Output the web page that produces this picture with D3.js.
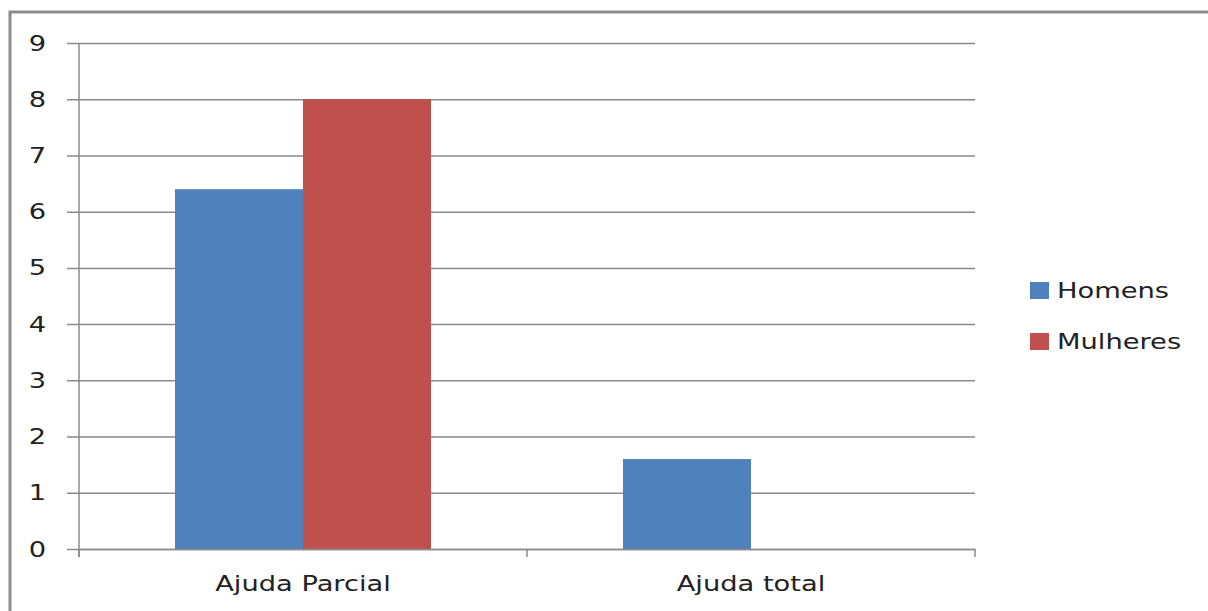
<!DOCTYPE html>
<html>
<head>
<meta charset="utf-8">
<script src="https://cdn.jsdelivr.net/npm/d3@7"></script>
<style>
  body { margin: 0; background: #fff; }
  text { font-family: "DejaVu Sans", sans-serif; fill: #222; }
</style>
</head>
<body>
<div id="chart"></div>
<script>
const categories = ['Ajuda Parcial', 'Ajuda total'];
const seriesNames = ['Homens', 'Mulheres'];
const homens = [6.4, 1.6];
const mulheres = [8, 0];
const yTicks = [0, 1, 2, 3, 4, 5, 6, 7, 8, 9];
const colors = ['#4f81bd', '#c0504d'];

const width = 1208;
const height = 611;
const plot = {left: 79, right: 975, top: 43, bottom: 549};
const stretch = 1.24; // text in the source is wider than normal

const svg = d3.select('#chart').append('svg')
  .attr('width', width)
  .attr('height', height);

// outer frame
svg.append('rect')
  .attr('x', 10).attr('y', 12)
  .attr('width', width + 10).attr('height', height + 10)
  .attr('fill', 'none')
  .attr('stroke', '#8c8c8c')
  .attr('stroke-width', 3);

const y = d3.scaleLinear().domain([0, 9]).range([plot.bottom, plot.top]);
const x0 = d3.scaleBand().domain(categories).range([plot.left, plot.right]);
const x1 = d3.scaleBand().domain(seriesNames).range([0, x0.bandwidth()]).paddingOuter(0.75);

function widen(sel) {
  sel.each(function() {
    const w = this.getComputedTextLength();
    d3.select(this).attr('textLength', w * stretch).attr('lengthAdjust', 'spacingAndGlyphs');
  });
}

// gridlines + y axis
const yAxis = d3.axisLeft(y).tickValues(yTicks).tickSize(-(plot.right - plot.left)).tickPadding(33);
const gy = svg.append('g')
  .attr('transform', 'translate(' + plot.left + ',0)')
  .call(yAxis);
gy.select('.domain').remove();
gy.selectAll('.tick line')
  .attr('x1', -12)
  .attr('stroke', '#8a8a8a')
  .attr('stroke-width', 1.5);
gy.selectAll('.tick text')
  .attr('font-size', 22)
  .attr('fill', '#222')
  .attr('font-family', '"DejaVu Sans", sans-serif')
  .call(widen);

svg.append('line')
  .attr('x1', plot.left).attr('x2', plot.left)
  .attr('y1', plot.top).attr('y2', plot.bottom + 8)
  .attr('stroke', '#8a8a8a').attr('stroke-width', 1.5);

// bars
const rows = categories.map((c, i) => ({cat: c, values: [homens[i], mulheres[i]]}));
const groups = svg.selectAll('.grp')
  .data(rows)
  .enter().append('g')
  .attr('transform', d => 'translate(' + x0(d.cat) + ',0)');
groups.selectAll('rect')
  .data(d => d.values.map((v, j) => ({name: seriesNames[j], v: v, j: j})))
  .enter().append('rect')
  .attr('x', d => x1(d.name))
  .attr('width', x1.bandwidth())
  .attr('y', d => y(d.v))
  .attr('height', d => y(0) - y(d.v))
  .attr('fill', d => colors[d.j]);

// x axis
const xAxis = d3.axisBottom(x0).tickSize(0).tickPadding(26);
const gx = svg.append('g')
  .attr('transform', 'translate(0,' + plot.bottom + ')')
  .call(xAxis);
gx.select('.domain')
  .attr('stroke', '#8a8a8a').attr('stroke-width', 1.5);
gx.selectAll('.tick text')
  .attr('font-size', 22)
  .attr('fill', '#222')
  .attr('font-family', '"DejaVu Sans", sans-serif')
  .call(widen);
const bounds = [plot.left].concat(categories.map(c => x0(c) + x0.bandwidth()));
svg.selectAll('.xtick')
  .data(bounds)
  .enter().append('line')
  .attr('x1', d => d).attr('x2', d => d)
  .attr('y1', plot.bottom).attr('y2', plot.bottom + 8)
  .attr('stroke', '#8a8a8a').attr('stroke-width', 1.5);

// legend
const legend = svg.selectAll('.leg')
  .data(seriesNames)
  .enter().append('g')
  .attr('transform', (d, i) => 'translate(1030,' + (282 + i * 51) + ')');
legend.append('rect')
  .attr('width', 19).attr('height', 17)
  .attr('fill', (d, i) => colors[i]);
legend.append('text')
  .attr('x', 27).attr('y', 16)
  .attr('font-size', 22)
  .text(d => d)
  .call(widen);
</script>
</body>
</html>
